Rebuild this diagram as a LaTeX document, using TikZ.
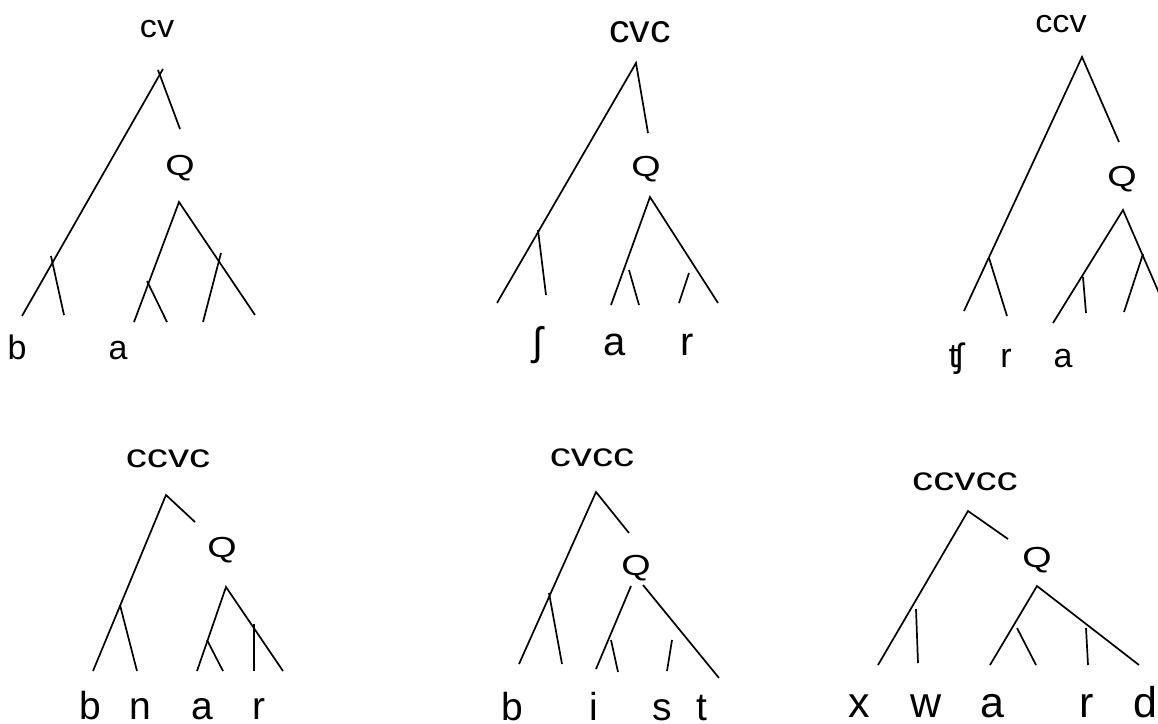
\documentclass[tikz,border=0pt]{standalone}
\usepackage{fontspec}
\setmainfont{Liberation Sans}
\newcommand{\hs}[2]{\scalebox{#1}[1]{#2}}
\tikzset{
  br/.style={line width=1.7pt, line cap=butt},
  lab/.style={inner sep=0pt, anchor=base},
  fa/.style={font=\fontsize{32}{38}\selectfont},
  fb/.style={font=\fontsize{39}{44}\selectfont},
  fc/.style={font=\fontsize{33}{38}\selectfont},
  fq/.style={font=\fontsize{29}{34}\selectfont},
  fl/.style={font=\fontsize{34}{40}\selectfont},
  fm/.style={font=\fontsize{40}{46}\selectfont},
  fn/.style={font=\fontsize{39}{44}\selectfont},
  fo/.style={font=\fontsize{43}{48}\selectfont},
}
\begin{document}
\begin{tikzpicture}[x=1pt,y=-1pt]
\clip (0,0) rectangle (1158,723);
\fill[white] (0,0) rectangle (1158,723);

% ---------- cv : b a ----------
\node[lab,fa] (cv) at (157,37) {\hs{1.07}{cv}};
\node[lab,fq] (q1) at (180,175) {\hs{1.3}{Q}};
\node[lab,fl] (b1) at (17,359) {b};
\node[lab,fl] (a1) at (118,359) {a};
\coordinate (t1l) at (163,69);  \coordinate (t1r) at (158,70);
\coordinate (t1ll) at (22,316); \coordinate (t1rr) at (180,129);
\coordinate (t1s) at (51,256);  \coordinate (t1se) at (64,315);
\coordinate (q1t) at (179,202);
\coordinate (q1l) at (134,322); \coordinate (q1r) at (255,315);
\coordinate (q1a) at (147,281); \coordinate (q1ae) at (167,322);
\coordinate (q1b) at (221,253); \coordinate (q1be) at (203,322);
\draw[br] (t1l) -- (t1ll);
\draw[br] (t1r) -- (t1rr);
\draw[br] (t1s) -- (t1se);
\draw[br] (q1l) -- (q1t) -- (q1r);
\draw[br] (q1a) -- (q1ae);
\draw[br] (q1b) -- (q1be);

% ---------- cvc : ʃ a r ----------
\node[lab,fb] (cvc) at (640,42) {\hs{1.05}{cvc}};
\node[lab,fq] (q2) at (646,176) {\hs{1.3}{Q}};
\node[lab,fm] (s2) at (538,355) {ʃ};
\node[lab,fm] (a2) at (615,355) {a};
\node[lab,fm] (r2) at (687,355) {r};
\coordinate (t2) at (636,63);
\coordinate (t2l) at (497,303); \coordinate (t2r) at (648,133);
\coordinate (t2s) at (538,230); \coordinate (t2se) at (546,295);
\coordinate (q2t) at (650,197);
\coordinate (q2l) at (611,305); \coordinate (q2r) at (718,303);
\coordinate (f2a) at (629,270); \coordinate (f2ae) at (639,305);
\coordinate (f2b) at (689,273); \coordinate (f2be) at (679,303);
\draw[br] (t2l) -- (t2) -- (t2r);
\draw[br] (t2s) -- (t2se);
\draw[br] (q2l) -- (q2t) -- (q2r);
\draw[br] (f2a) -- (f2ae);
\draw[br] (f2b) -- (f2be);

% ---------- ccv : ʧ r a ----------
\node[lab,fa] (ccv) at (1061,32) {\hs{1.07}{ccv}};
\node[lab,fq] (q3) at (1122,186) {\hs{1.3}{Q}};
\node[lab,fl] (c3) at (956,367) {ʧ};
\node[lab,fl] (r3) at (1006,367) {r};
\node[lab,fl] (a3) at (1063,367) {a};
\coordinate (t3) at (1082,57);
\coordinate (t3l) at (964,311); \coordinate (t3r) at (1119,142);
\coordinate (t3s) at (989,258); \coordinate (t3se) at (1007,316);
\coordinate (q3t) at (1123,210);
\coordinate (q3l) at (1053,323); \coordinate (q3r) at (1169,316);
\coordinate (q3a) at (1083,277); \coordinate (q3ae) at (1086,313);
\coordinate (q3b) at (1143,254); \coordinate (q3be) at (1124,312);
\draw[br] (t3l) -- (t3) -- (t3r);
\draw[br] (t3s) -- (t3se);
\draw[br] (q3l) -- (q3t) -- (q3r);
\draw[br] (q3a) -- (q3ae);
\draw[br] (q3b) -- (q3be);

% ---------- ccvc : b n a r ----------
\node[lab,fc] (ccvc) at (168,467) {\hs{1.28}{ccvc}};
\node[lab,fq] (q4) at (222,557) {\hs{1.3}{Q}};
\node[lab,fn] (b4) at (90,719) {b};
\node[lab,fn] (n4) at (140,719) {n};
\node[lab,fn] (a4) at (202,719) {a};
\node[lab,fn] (r4) at (259,719) {r};
\coordinate (t4) at (166,495);
\coordinate (t4l) at (93,671); \coordinate (t4r) at (195,522);
\coordinate (t4s) at (120,605); \coordinate (t4se) at (137,671);
\coordinate (q4t) at (226,587);
\coordinate (q4l) at (197,671); \coordinate (q4r) at (283,671);
\coordinate (q4a) at (207,640); \coordinate (q4ae) at (223,671);
\coordinate (q4b) at (254,624); \coordinate (q4be) at (254,671);
\draw[br] (t4l) -- (t4) -- (t4r);
\draw[br] (t4s) -- (t4se);
\draw[br] (q4l) -- (q4t) -- (q4r);
\draw[br] (q4a) -- (q4ae);
\draw[br] (q4b) -- (q4be);

% ---------- cvcc : b i s t ----------
\node[lab,fc] (cvcc) at (592,466) {\hs{1.28}{cvcc}};
\node[lab,fq] (q5) at (636,575) {\hs{1.3}{Q}};
\node[lab,fn] (b5) at (512,720) {b};
\node[lab,fn] (i5) at (594,720) {i};
\node[lab,fn] (s5) at (662,720) {s};
\node[lab,fn] (t5) at (702,720) {t};
\coordinate (t5a) at (596,492);
\coordinate (t5l) at (519,664); \coordinate (t5r) at (629,533);
\coordinate (t5s) at (549,593); \coordinate (t5se) at (562,664);
\coordinate (q5l) at (631,586); \coordinate (q5le) at (596,669);
\coordinate (q5r) at (643,585); \coordinate (q5re) at (719,678);
\coordinate (f5a) at (611,640); \coordinate (f5ae) at (618,672);
\coordinate (f5b) at (672,640); \coordinate (f5be) at (667,671);
\draw[br] (t5l) -- (t5a) -- (t5r);
\draw[br] (t5s) -- (t5se);
\draw[br] (q5l) -- (q5le);
\draw[br] (q5r) -- (q5re);
\draw[br] (f5a) -- (f5ae);
\draw[br] (f5b) -- (f5be);

% ---------- ccvcc : x w a r d ----------
\node[lab,fc] (ccvcc) at (965,490) {\hs{1.28}{ccvcc}};
\node[lab,fq] (q6) at (1037,567) {\hs{1.3}{Q}};
\node[lab,fo] (x6) at (859,717) {x};
\node[lab,fo] (w6) at (926,717) {w};
\node[lab,fo] (a6) at (992,717) {a};
\node[lab,fo] (r6) at (1087,717) {r};
\node[lab,fo] (d6) at (1145,717) {d};
\coordinate (t6) at (968,511);
\coordinate (t6l) at (878,665); \coordinate (t6r) at (1008,539);
\coordinate (q6t) at (1037,586);
\coordinate (q6l) at (990,665); \coordinate (q6r) at (1139,665);
\coordinate (f6a) at (916,609); \coordinate (f6ae) at (918,663);
\coordinate (f6b) at (1017,628); \coordinate (f6be) at (1036,665);
\coordinate (f6c) at (1086,628); \coordinate (f6ce) at (1088,665);
\draw[br] (t6l) -- (t6) -- (t6r);
\draw[br] (q6l) -- (q6t) -- (q6r);
\draw[br] (f6a) -- (f6ae);
\draw[br] (f6b) -- (f6be);
\draw[br] (f6c) -- (f6ce);
\end{tikzpicture}
\end{document}
